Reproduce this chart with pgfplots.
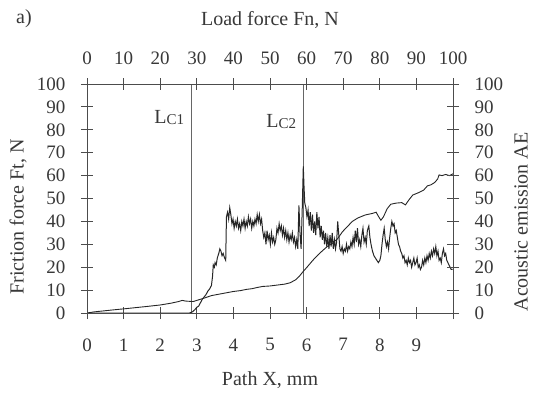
\documentclass[border=0pt]{standalone}
\usepackage{pgfplots}
\pgfplotsset{compat=1.18}
\usepackage{fontspec}
\setmainfont{Liberation Serif}
\definecolor{txt}{gray}{0.22}
\definecolor{axc}{gray}{0.3}
\definecolor{dat}{gray}{0.15}
\definecolor{vln}{gray}{0.4}

\pgfplotstableread{
x y
0 0
0.5 0
1.0 0
1.5 0
2.0 0
2.5 0
2.8 0
2.88 0.5
2.95 1.5
3.0 2.5
3.05 3
3.1 4.5
3.15 6
3.2 7
3.25 8
3.3 9.5
3.35 10.5
3.4 12
3.43 16
3.45 21
3.48 20
3.5 22
3.53 21
3.56 24
3.6 26
3.63 28
3.66 27
3.69 25
3.72 26
3.76 24
3.79 23
3.81 42
3.84 44
3.87 41
3.9 46
3.93 43
3.96 39
3.99 41
4.02 37
4.05 40
4.08 38
4.11 41
4.14 37
4.17 39
4.2 36
4.23 40
4.26 38
4.29 41
4.32 37
4.35 40
4.38 38
4.41 42
4.44 39
4.47 41
4.5 37
4.53 40
4.56 38
4.59 41
4.62 39
4.65 43
4.68 40
4.71 43
4.74 39
4.77 41
4.8 36
4.83 33
4.86 35
4.89 30
4.92 36
4.95 32
4.98 34
5.01 30
5.04 35
5.07 31
5.1 33
5.13 30
5.16 32
5.19 37
5.22 35
5.25 39
5.28 36
5.31 38
5.34 34
5.37 37
5.4 33
5.43 36
5.46 32
5.49 35
5.52 31
5.55 34
5.58 32
5.61 35
5.64 31
5.67 33
5.7 29
5.73 32
5.76 28
5.79 47
5.82 35
5.85 28
5.88 45
5.91 64
5.93 55
5.95 48
5.98 46
6.01 42
6.04 45
6.07 38
6.1 44
6.13 36
6.16 43
6.19 35
6.22 40
6.25 34
6.28 44
6.31 37
6.34 42
6.37 33
6.4 38
6.43 32
6.46 36
6.49 30
6.52 35
6.55 29
6.58 33
6.61 28
6.64 34
6.67 29
6.7 35
6.73 28
6.76 32
6.79 28
6.82 31
6.85 40
6.88 34
6.91 28
6.94 27
6.97 29
7.0 26
7.03 28
7.06 27
7.09 30
7.12 27
7.15 29
7.18 28
7.21 31
7.24 29
7.27 33
7.3 30
7.33 36
7.36 31
7.39 37
7.42 30
7.45 32
7.48 29
7.51 34
7.54 37
7.57 31
7.6 33
7.63 30
7.66 36
7.7 38
7.73 33
7.76 30
7.8 27
7.84 25
7.88 24
7.92 23
7.96 22
8.0 23
8.03 25
8.06 30
8.09 34
8.12 37
8.15 32
8.18 29
8.21 31
8.24 28
8.27 33
8.3 37
8.33 40
8.36 38
8.39 39
8.42 35
8.45 36
8.48 33
8.51 30
8.54 29
8.57 27
8.6 26
8.63 24
8.66 25
8.69 22
8.72 23
8.75 21
8.78 24
8.81 22
8.84 23
8.87 20
8.9 22
8.93 24
8.96 21
8.99 22
9.02 24
9.05 20
9.08 21
9.11 19
9.14 20
9.17 23
9.2 21
9.23 24
9.26 22
9.29 25
9.32 23
9.35 26
9.38 24
9.41 27
9.44 25
9.47 28
9.5 26
9.53 29
9.56 25
9.59 27
9.62 23
9.65 24
9.68 22
9.71 26
9.74 28
9.77 25
9.8 26
9.83 23
9.86 22
9.89 21
9.92 20
9.95 19
9.99 19
}\aedata

\pgfplotstableread{
x y
0 0
0.2 0.5
0.5 1
0.8 1.5
1.0 1.8
1.3 2.3
1.6 2.8
2.0 3.5
2.3 4.3
2.5 5.0
2.6 5.5
2.7 5.2
2.9 5.0
3.0 5.5
3.2 6.5
3.4 7.6
3.6 8.2
3.8 8.8
4.0 9.4
4.2 9.8
4.35 10.3
4.5 10.6
4.7 11.3
4.8 11.6
5.0 11.8
5.2 12.2
5.4 12.6
5.55 13.2
5.7 14.5
5.8 16
5.9 18
6.0 19.8
6.17 23
6.3 25.2
6.44 27.3
6.6 29.5
6.71 30.5
6.85 32.5
6.98 35.5
7.1 37.5
7.25 40
7.4 41.5
7.6 42.8
7.8 43.5
7.9 44
7.97 42
8.03 40.5
8.1 42
8.2 45.5
8.3 47.5
8.45 48
8.6 48.2
8.7 47.2
8.8 49.5
8.9 51.5
9.05 52.5
9.2 53.7
9.3 55.5
9.4 56
9.5 57
9.58 58.5
9.62 60.3
9.7 60
9.8 60.5
9.9 60
10 60.8
}\ffdata

\begin{document}
\begin{tikzpicture}[x=1pt,y=1pt]
\useasboundingbox (0,0) rectangle (538,392);
\pgfplotsset{
  common/.style={
    at={(87pt,79pt)}, anchor=south west,
    width=366pt, height=229pt, scale only axis,
    ymin=0, ymax=100,
    axis line style={color=axc, line width=1pt},
    tick style={color=axc, line width=0.9pt},
    major tick length=12pt,
    tick align=center,
    /pgf/number format/assume math mode=true,
    ticklabel style={font=\fontsize{19}{22}\selectfont, text=txt},
    ytick={0,10,...,100},
  }
}
\begin{axis}[common,
  xmin=0, xmax=10,
  xtick={0,1,...,10},
  xticklabels={0,1,2,3,4,5,6,7,8,9,},
  xtick pos=bottom, ytick pos=left,
  xticklabel style={yshift=-16pt},
  yticklabel style={xshift=-12pt},
]
\addplot[vln, line width=1pt] coordinates {(2.86,0) (2.86,100)};
\addplot[vln, line width=1pt] coordinates {(5.91,0) (5.91,100)};
\addplot[dat, line width=0.9pt] table[x=x,y=y] {\ffdata};
\addplot[dat, line width=1pt] table[x=x,y=y] {\aedata};
\node[anchor=base east, text=txt, inner sep=0pt, font=\fontsize{20}{22}\selectfont] at (axis cs:2.66,82.8) {L\raisebox{-1.5pt}{\fontsize{15}{15}\selectfont C1}};
\node[anchor=base east, text=txt, inner sep=0pt, font=\fontsize{20}{22}\selectfont] at (axis cs:5.72,81.2) {L\raisebox{-1.5pt}{\fontsize{15}{15}\selectfont C2}};
\end{axis}
\begin{axis}[common,
  xmin=0, xmax=100,
  xtick={0,10,...,100},
  xtick pos=top, ytick pos=right,
  xticklabel pos=top, yticklabel pos=right,
  xticklabel style={yshift=10pt},
  yticklabel style={xshift=12pt},
]
\end{axis}
\node[text=txt, font=\fontsize{20}{22}\selectfont, anchor=west, inner sep=0pt] at (16,373) {a)};
\node[text=txt, font=\fontsize{20}{22}\selectfont] at (270,372) {Load force Fn, N};
\node[text=txt, font=\fontsize{20}{22}\selectfont] at (270,12) {Path X, mm};
\node[text=txt, font=\fontsize{20}{22}\selectfont, rotate=90] at (18,175) {Friction force Ft, N};
\node[text=txt, font=\fontsize{20}{22}\selectfont, rotate=90] at (521,170) {Acoustic emission AE};
\end{tikzpicture}
\end{document}
